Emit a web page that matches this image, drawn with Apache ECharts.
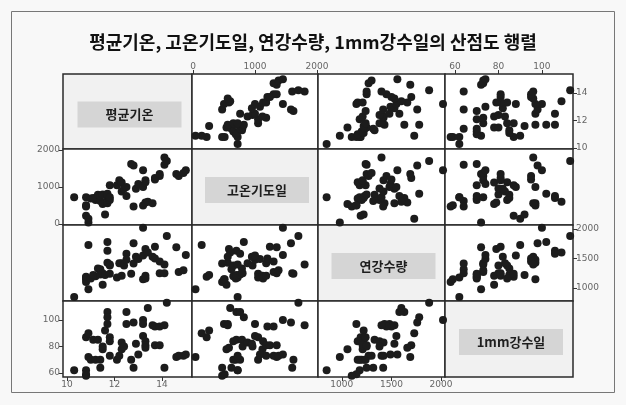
<!DOCTYPE html>
<html>
<head>
<meta charset="utf-8">
<script src="https://cdn.jsdelivr.net/npm/echarts@6/dist/echarts.min.js"></script>
<style>
  html, body { margin: 0; padding: 0; background: #f4f4f4; }
  #chart { width: 626px; height: 405px; }
</style>
</head>
<body>
<div id="chart"></div>
<script>
// Climate variables for each station
const temp = [10.3, 10.8, 10.8, 10.8, 10.8, 10.9, 10.9, 11.0, 11.2, 11.1, 11.3, 11.4, 11.4, 11.5, 11.5, 11.7, 11.7, 11.7, 11.6, 11.8,
  11.8, 11.8, 12.1, 12.2, 12.3, 12.3, 12.4, 12.5, 12.5, 12.7, 12.8, 12.8, 12.9, 13.0, 13.2, 13.2, 13.2, 13.3, 13.3, 13.3,
  13.4, 13.6, 13.7, 13.9, 14.1, 13.7, 13.9, 14.1, 14.2, 14.6, 14.7, 14.9, 15.0];
const hotDays = [720, 720, 510, 470, 220, 140, 40, 690, 650, 700, 790, 620, 760, 540, 800, 700, 820, 560, 260, 1050,
  650, 720, 1050, 1180, 1120, 880, 960, 760, 1000, 1620, 470, 1580, 950, 1080, 1450, 500, 1000, 1130, 1180, 580,
  600, 560, 1200, 1300, 1800, 1240, 1350, 1600, 1700, 1350, 1300, 1380, 1450];
const precip = [847, 1180, 1147, 1100, 1190, 1730, 980, 1160, 1200, 1220, 1330, 1317, 1230, 1057, 1250, 1630, 1780, 1430, 1220, 1240,
  1380, 1400, 1180, 1420, 1210, 1420, 1380, 1580, 1480, 1240, 1417, 1760, 1530, 1490, 2020, 1147, 1550, 1160, 1210, 1660,
  1600, 1530, 1500, 1450, 1400, 1700, 1250, 1250, 1880, 1690, 1270, 1300, 1560];
const rainDays = [62, 62, 59, 58, 87, 90, 72, 70, 70, 85, 85, 64, 70, 78, 80, 106, 102, 97, 92, 87,
  84, 73, 70, 73, 78, 83, 80, 106, 97, 70, 64, 98, 82, 74, 100, 97, 88, 84, 81, 79,
  109, 96, 95, 95, 96, 81, 81, 64, 113, 72, 73, 73, 74];

const varNames = ['평균기온', '고온기도일', '연강수량', '1mm강수일'];
const varValues = [temp, hotDays, precip, rainDays];

// tick labels for each variable
const tickValues = [[10, 12, 14], [0, 1000, 2000], [1000, 1500, 2000], [60, 80, 100]];

// axis extents when the variable runs horizontally / vertically
const xRange = [[9.83, 15.26], [-16, 2016], [760, 2040], [55.4, 114.3]];
const yRange = [[9.93, 15.38], [-27, 2027], [780, 2068], [57, 114.3]];

// panel layout
const colEdges = [63, 192, 318, 445, 573];
const rowEdges = [74, 149, 225, 301, 377];

// which outer edge carries each variable's ticks
const xTickSide = ['bottom', 'top', 'bottom', 'top'];   // per column
const yTickSide = ['right', 'left', 'right', 'left'];   // per row

const grids = [], xAxes = [], yAxes = [], series = [], graphics = [];
const n = varNames.length;
const plainNumber = v => String(v);

for (let r = 0; r < n; r++) {
  for (let c = 0; c < n; c++) {
    const k = grids.length;
    const diag = r === c;
    grids.push({
      left: colEdges[c], top: rowEdges[r],
      width: colEdges[c + 1] - colEdges[c], height: rowEdges[r + 1] - rowEdges[r],
      show: true,
      backgroundColor: diag ? '#f1f1f1' : '#ffffff',
      borderColor: '#2a2a2a', borderWidth: 1.5
    });
    const showX = (xTickSide[c] === 'top' && r === 0) || (xTickSide[c] === 'bottom' && r === n - 1);
    const showY = (yTickSide[r] === 'left' && c === 0) || (yTickSide[r] === 'right' && c === n - 1);
    xAxes.push({
      gridIndex: k, type: 'value', min: xRange[c][0], max: xRange[c][1],
      position: xTickSide[c],
      axisLine: { show: false }, splitLine: { show: false },
      axisTick: { show: showX && !diag, length: 4, customValues: tickValues[c], lineStyle: { color: '#333', width: 1 } },
      axisLabel: { show: showX && !diag, customValues: tickValues[c], formatter: plainNumber,
        fontSize: 9, color: '#666', margin: 3, fontFamily: 'DejaVu Sans' }
    });
    yAxes.push({
      gridIndex: k, type: 'value', min: yRange[r][0], max: yRange[r][1],
      position: yTickSide[r],
      axisLine: { show: false }, splitLine: { show: false },
      axisTick: { show: showY && !diag, length: 4, customValues: tickValues[r], lineStyle: { color: '#333', width: 1 } },
      axisLabel: { show: showY && !diag, customValues: tickValues[r], formatter: plainNumber,
        fontSize: 9, color: '#666', margin: 3, fontFamily: 'DejaVu Sans' }
    });
    if (diag) {
      const cx = (colEdges[c] + colEdges[c + 1]) / 2 + 2;
      const cy = (rowEdges[r] + rowEdges[r + 1]) / 2 + 3;
      graphics.push({
        type: 'rect', z: 10,
        shape: { x: cx - 52, y: cy - 13, width: 104, height: 26 },
        style: { fill: '#d5d5d5' }
      });
      graphics.push({
        type: 'text', z: 11, x: cx, y: cy,
        style: {
          text: varNames[r], fill: '#1e1e1e', align: 'center', verticalAlign: 'middle',
          font: 'bold 13px "Noto Sans CJK KR"'
        }
      });
    } else {
      series.push({
        type: 'scatter', xAxisIndex: k, yAxisIndex: k,
        symbolSize: 8,
        itemStyle: { color: '#1c1c1c', opacity: 1 },
        data: varValues[c].map((v, i) => [v, varValues[r][i]])
      });
    }
  }
}

// outer frame of the figure
graphics.push({
  type: 'rect', z: 0,
  shape: { x: 11.5, y: 11.5, width: 603, height: 381 },
  style: { fill: 'none', stroke: '#777', lineWidth: 1 }
});

const chart = echarts.init(document.getElementById('chart'), null, { renderer: 'canvas' });
chart.setOption({
  animation: false,
  backgroundColor: '#f8f8f8',
  title: {
    text: '평균기온, 고온기도일, 연강수량, 1mm강수일의 산점도 행렬',
    left: 'center', top: 28,
    textStyle: { fontFamily: 'Noto Sans CJK KR', fontWeight: 'bold', fontSize: 18, color: '#111' }
  },
  graphic: graphics,
  grid: grids,
  xAxis: xAxes,
  yAxis: yAxes,
  series: series
});
</script>
</body>
</html>
